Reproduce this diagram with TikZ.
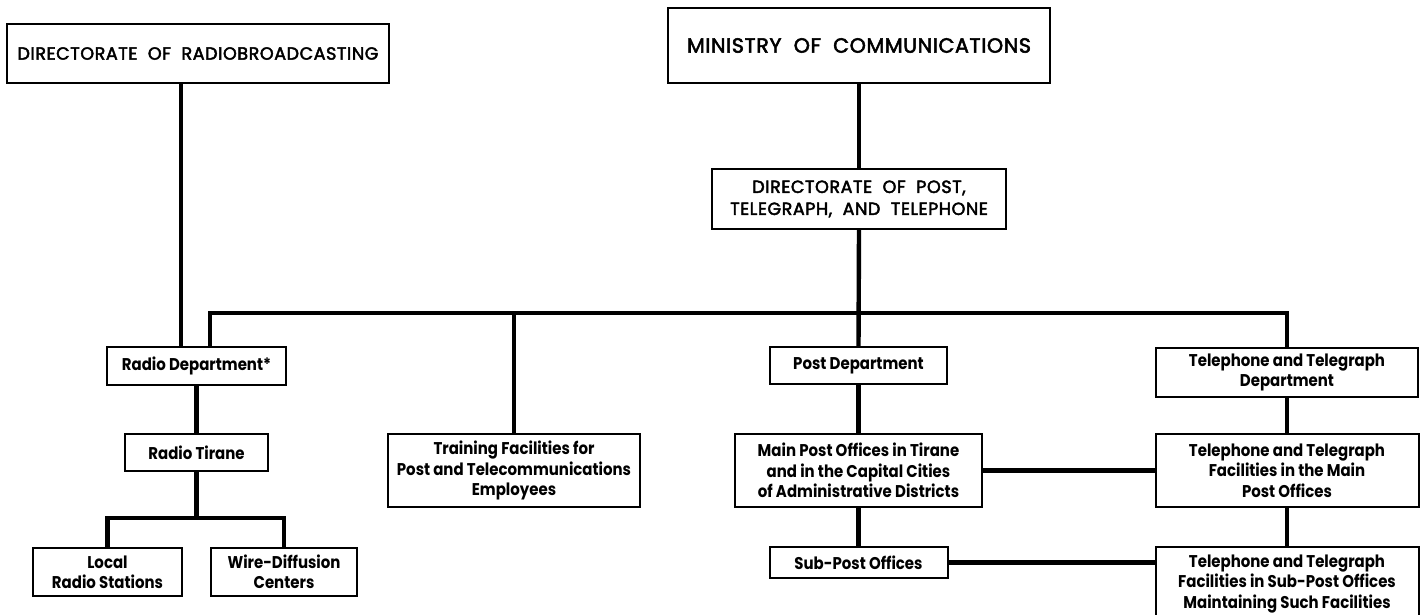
\documentclass[tikz,border=0pt]{standalone}
\usepackage{fontspec}
\setmainfont{Poppins}
\newfontfamily\titlefont{Poppins}[FakeBold=2.5, LetterSpace=3]
\newfontfamily\unitfont{Poppins}[FakeStretch=0.88]
\newdimen\pxu \pxu=0.5pt
\tikzset{
  box/.style={draw, line width=1pt, inner sep=0pt, align=center, fill=white},
  title/.style={box, font=\titlefont\fontsize{8.8}{11}\selectfont},
  unit/.style={box, font=\unitfont\bfseries\fontsize{8.5}{10.2}\selectfont},
  conn/.style={line width=2.2pt, line join=miter},
}
\begin{document}
\begin{tikzpicture}[x=0.5pt, y=-0.5pt]
\useasboundingbox (0,0) rectangle (1424,615);
% nodes
\node[title, minimum width=382\pxu, minimum height=59\pxu] (dirradio) at (198,53.5) {DIRECTORATE\ \ OF\ \ RADIOBROADCASTING};
\node[title, font=\titlefont\fontsize{10.3}{12}\selectfont, minimum width=382\pxu, minimum height=75\pxu] (ministry) at (859,45.5) {MINISTRY\ \ OF\ \ COMMUNICATIONS};
\node[title, minimum width=294\pxu, minimum height=60\pxu] (dirpost) at (859,199) {DIRECTORATE\ \ OF\ \ POST,\\TELEGRAPH,\ \ AND\ \ TELEPHONE};
\node[unit, minimum width=179\pxu, minimum height=38\pxu] (raddept) at (196.5,366) {Radio Department*};
\node[unit, minimum width=143\pxu, minimum height=37\pxu] (tirane) at (196.5,452.5) {Radio Tirane};
\node[unit, minimum width=149\pxu, minimum height=48\pxu] (local) at (107.5,572) {Local\\Radio Stations};
\node[unit, minimum width=146\pxu, minimum height=48\pxu] (wire) at (284,572) {Wire-Diffusion\\Centers};
\node[unit, minimum width=252\pxu, minimum height=73\pxu] (training) at (514,470.5) {Training Facilities for\\Post and Telecommunications\\Employees};
\node[unit, minimum width=177\pxu, minimum height=37\pxu] (postdept) at (858.5,365.5) {Post Department};
\node[unit, minimum width=247\pxu, minimum height=73\pxu] (mainpost) at (858.5,470.5) {Main Post Offices in Tirane\\and in the Capital Cities\\of Administrative Districts};
\node[unit, minimum width=178\pxu, minimum height=31\pxu] (subpost) at (858.5,562.5) {Sub-Post Offices};
\node[unit, minimum width=262\pxu, minimum height=49\pxu] (ttdept) at (1287,372.5) {Telephone and Telegraph\\Department};
\node[unit, minimum width=263\pxu, minimum height=73\pxu] (ttmain) at (1287,470.5) {Telephone and Telegraph\\Facilities in the Main\\Post Offices};
\node[unit, minimum width=263\pxu, minimum height=74\pxu] (ttsub) at (1287,584) {Telephone and Telegraph\\Facilities in Sub-Post Offices\\Maintaining Such Facilities};
% helper coordinates
\coordinate (rline) at (181,0);
\coordinate (busL) at (210,313);
\coordinate (br) at (196.5,518);
% connectors
\draw[conn] (dirradio.south -| rline) -- (raddept.north -| rline);
\draw[conn] (raddept.north -| busL) -- (busL) -| (ttdept.north);
\draw[conn] (ministry.south) -- (dirpost.north);
\draw[conn] (dirpost.south) -- (postdept.north);
\draw[conn] (training.north |- busL) -- (training.north);
\draw[conn] (raddept.south) -- (tirane.north);
\draw[conn] (tirane.south) -- (br);
\draw[conn] (local.north) |- (br) -| (wire.north);
\draw[conn] (postdept.south) -- (mainpost.north);
\draw[conn] (mainpost.south) -- (subpost.north);
\draw[conn] (mainpost.east) -- (mainpost.east -| ttmain.west);
\draw[conn] (subpost.east) -- (subpost.east -| ttsub.west);
\draw[conn] (ttdept.south) -- (ttmain.north);
\draw[conn] (ttmain.south) -- (ttsub.north);
\end{tikzpicture}
\end{document}
